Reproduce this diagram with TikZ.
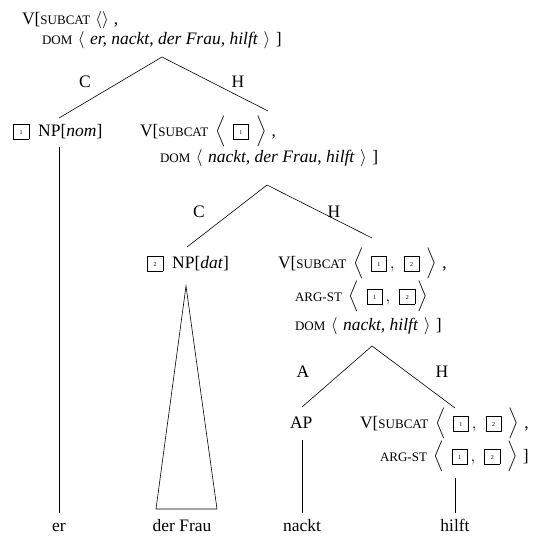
\documentclass[tikz,border=0pt]{standalone}
\usepackage{exscale}
\usepackage{fontspec}
\setmainfont{Liberation Serif}
\newcommand{\sca}[1]{{\fontsize{13}{13}\selectfont #1}}
\newcommand{\gapp}{\hspace{7pt}}
\newcommand{\gapd}{\hspace{5.5pt}}
\newcommand{\tg}[1]{\vcenter{\hbox{\setlength{\fboxsep}{0pt}\setlength{\fboxrule}{0.6pt}\fbox{\makebox[15pt]{\rule[-5pt]{0pt}{15pt}\fontsize{6}{6}\selectfont #1}}}}}
\begin{document}
\begin{tikzpicture}[x=1pt,y=-1pt,
  every node/.style={inner sep=0pt,outer sep=0pt,font=\fontsize{17.5}{21}\selectfont},
  row/.style={anchor=base west},
  leaf/.style={anchor=base},
  lab/.style={anchor=center},
  edge/.style={line width=0.6pt}]
\useasboundingbox (0,0) rectangle (537,535);
% root
\node[row] (r1) at (22,25) {V[\sca{SUBCAT}\hspace{5pt}$\langle\rangle$\hspace{5pt},};
\node[row] (r2) at (42,45) {\sca{DOM}\gapd$\langle$\gapd\textit{er, nackt, der Frau, hilft}\gapd$\rangle$\gapd]};
\coordinate (a1) at (162,57);
\coordinate (a1l) at (59,118);
\coordinate (a1r) at (268,111);
\node[lab] (c1) at (85,82) {C};
\node[lab] (h1) at (238,82) {H};
% level 2
\node[row] (np1) at (13,136) {$\tg{1}$\hspace{9pt}NP[\textit{nom}]};
\node[row] (v2a) at (140,136) {V[\sca{SUBCAT}\gapp$\Big\langle\gapp\tg{1}\gapp\Big\rangle$\hspace{5pt},};
\node[row] (v2b) at (160,162) {\sca{DOM}\gapd$\langle$\gapd\textit{nackt, der Frau, hilft}\gapd$\rangle$\gapd]};
\coordinate (a2) at (267,185);
\coordinate (a2l) at (187,247);
\coordinate (a2r) at (372,238);
\node[lab] (c2) at (199,212) {C};
\node[lab] (h2) at (334,212) {H};
% level 3
\node[row] (np2) at (147,268) {$\tg{2}$\hspace{9pt}NP[\textit{dat}]};
\node[row] (v3a) at (278,268) {V[\sca{SUBCAT}\gapp$\Big\langle\gapp\tg{1}\,,\hspace{6pt}\tg{2}\gapp\Big\rangle$\hspace{5pt},};
\node[row] (v3b) at (295,301) {\sca{ARG-ST}\gapp$\Big\langle\gapp\tg{1}\,,\hspace{6pt}\tg{2}\hspace{2pt}\Big\rangle$};
\node[row] (v3c) at (295,330) {\sca{DOM}\gapd$\langle$\gapd\textit{nackt, hilft}\gapd$\rangle$\gapd]};
\coordinate (a3) at (372,346);
\coordinate (a3l) at (302,407);
\coordinate (a3r) at (455,408);
\node[lab] (c3) at (303,372) {A};
\node[lab] (h3) at (442,372) {H};
% level 4
\node[row] (ap) at (290,428) {AP};
\node[row] (v4a) at (360,428) {V[\sca{SUBCAT}\gapp$\Big\langle\gapp\tg{1}\,,\hspace{6pt}\tg{2}\gapp\Big\rangle$\hspace{5pt},};
\node[row] (v4b) at (380,461) {\sca{ARG-ST}\gapp$\Big\langle\gapp\tg{1}\,,\hspace{6pt}\tg{2}\gapp\Big\rangle$\hspace{5pt}]};
% leaves
\node[leaf] (er) at (59,531) {er};
\node[leaf] (df) at (182,531) {der Frau};
\node[leaf] (nk) at (302,531) {nackt};
\node[leaf] (hf) at (455,531) {hilft};
\coordinate (t1) at (59,147);
\coordinate (t1b) at (59,513);
\coordinate (tri) at (186,286);
\coordinate (tril) at (156,509);
\coordinate (trir) at (217,509);
\coordinate (t3) at (302,440);
\coordinate (t3b) at (302,513);
\coordinate (t4) at (455,478);
\coordinate (t4b) at (455,513);
% edges
\draw[edge] (a1l) -- (a1) -- (a1r);
\draw[edge] (a2l) -- (a2) -- (a2r);
\draw[edge] (a3l) -- (a3) -- (a3r);
\draw[edge] (t1) -- (t1b);
\draw[edge] (tril) -- (tri) -- (trir) -- cycle;
\draw[edge] (t3) -- (t3b);
\draw[edge] (t4) -- (t4b);
\end{tikzpicture}
\end{document}
